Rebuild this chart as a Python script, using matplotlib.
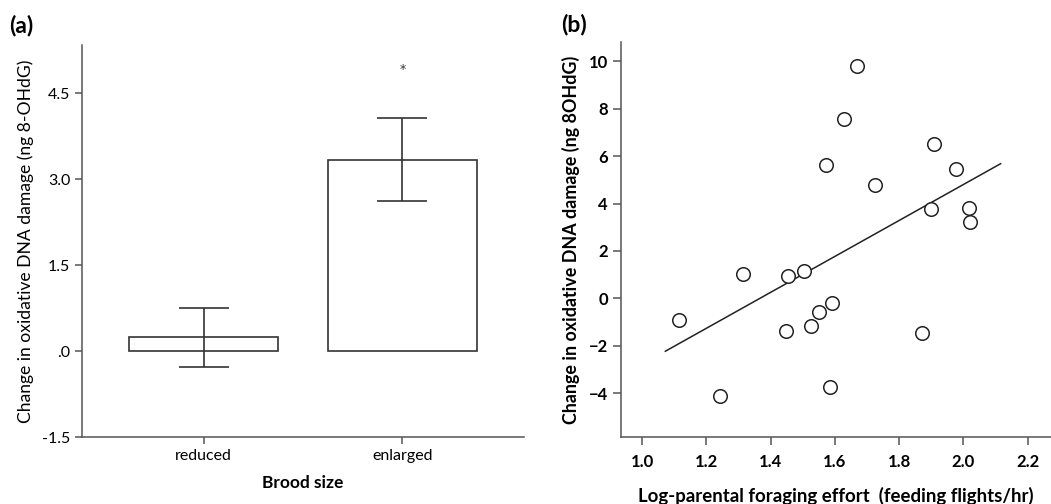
import numpy as np
import matplotlib
matplotlib.use("Agg")
import matplotlib.pyplot as plt

plt.rcParams['font.family'] = ['Lato', 'DejaVu Sans']

# Panel (a) data
groups = ["reduced", "enlarged"]
means = [0.24, 3.34]
errs = [0.51, 0.73]
a_yticks = [-1.5, 0.0, 1.5, 3.0, 4.5]
a_yticklabels = ["-1.5", ".0", "1.5", "3.0", "4.5"]
star_y = 4.97

# Panel (b) data
effort = [1.668, 1.628, 1.909, 1.573, 1.978, 1.725, 1.899, 2.018, 2.022,
          1.313, 1.455, 1.504, 1.113, 1.591, 1.551, 1.525, 1.447, 1.870,
          1.586, 1.242]
damage = [9.81, 7.57, 6.51, 5.62, 5.44, 4.77, 3.78, 3.80, 3.22,
          1.01, 0.95, 1.15, -0.90, -0.21, -0.59, -1.16, -1.38, -1.44,
          -3.73, -4.10]
fit_range = [1.072, 2.116]
b_xticks = [1.0, 1.2, 1.4, 1.6, 1.8, 2.0, 2.2]
b_yticks = [-4, -2, 0, 2, 4, 6, 8, 10]

spine_c = '#555555'
line_c = '#333333'

fig = plt.figure(figsize=(10.51, 5.04), dpi=100)

# ---------- Panel (a)
ax1 = fig.add_axes([0.078, 0.1329, 0.4206, 0.7778])
x = np.arange(len(groups))
ax1.bar(x, means, width=0.75, facecolor='white', edgecolor=line_c, linewidth=1.2)
ax1.errorbar(x, means, yerr=errs, fmt='none', ecolor=line_c, elinewidth=1.2,
             capsize=18, capthick=1.2)
ax1.annotate("*", (1, star_y), xytext=(0, -7), textcoords='offset pixels',
             ha='center', va='baseline', fontsize=9, family='DejaVu Sans',
             color='#333333')
ax1.set_xlim(-0.611, 1.611)
ax1.set_ylim(-1.5, 5.34)
ax1.set_yticks(a_yticks)
ax1.set_yticklabels(a_yticklabels)
ax1.set_xticks(x)
ax1.set_xticklabels(groups)
for s in ['top', 'right']:
    ax1.spines[s].set_visible(False)
for s in ['left', 'bottom']:
    ax1.spines[s].set_color(spine_c)
    ax1.spines[s].set_linewidth(1.1)
ax1.tick_params(axis='both', colors=spine_c, labelcolor='black', labelsize=11.5,
                length=5, width=1.1, direction='out')
ax1.set_ylabel("Change in oxidative DNA damage (ng 8-OHdG)", fontsize=12.6, labelpad=6)
ax1.set_xlabel("Brood size", fontsize=12.5, fontweight='bold', labelpad=9)
fig.text(0.009, 0.950, "(a)", fontsize=16.5, fontweight='bold', ha='left', va='center')

# ---------- Panel (b)
ax2 = fig.add_axes([0.5909, 0.1323, 0.4091, 0.785])
ax2.scatter(effort, damage, s=95, facecolors='white', edgecolors='#222222',
            linewidths=1.1, zorder=3)
coef = np.polyfit(effort, damage, 1)
fx = np.array(fit_range)
ax2.plot(fx, np.polyval(coef, fx), color='#222222', linewidth=1.1, zorder=2)
ax2.set_xlim(0.934, 2.273)
ax2.set_ylim(-5.86, 10.83)
ax2.set_xticks(b_xticks)
ax2.set_xticklabels([f"{v:.1f}" for v in b_xticks])
ax2.set_yticks(b_yticks)
for s in ['top', 'right']:
    ax2.spines[s].set_visible(False)
for s in ['left', 'bottom']:
    ax2.spines[s].set_color(spine_c)
    ax2.spines[s].set_linewidth(1.1)
ax2.tick_params(axis='both', colors=spine_c, labelcolor='black', labelsize=12,
                length=6, width=1.1, direction='out')
ax2.tick_params(axis='x', pad=6)
for lab in ax2.get_xticklabels() + ax2.get_yticklabels():
    lab.set_fontweight('bold')
ax2.set_ylabel("Change in oxidative DNA damage (ng 8OHdG)", fontsize=12.9,
               fontweight='bold', labelpad=6)
ax2.set_xlabel("Log-parental foraging effort  (feeding flights/hr)", fontsize=13.4,
               fontweight='bold', labelpad=12)
fig.text(0.534, 0.952, "(b)", fontsize=16.5, fontweight='bold', ha='left', va='center')

fig.savefig("out.png", dpi=100)
